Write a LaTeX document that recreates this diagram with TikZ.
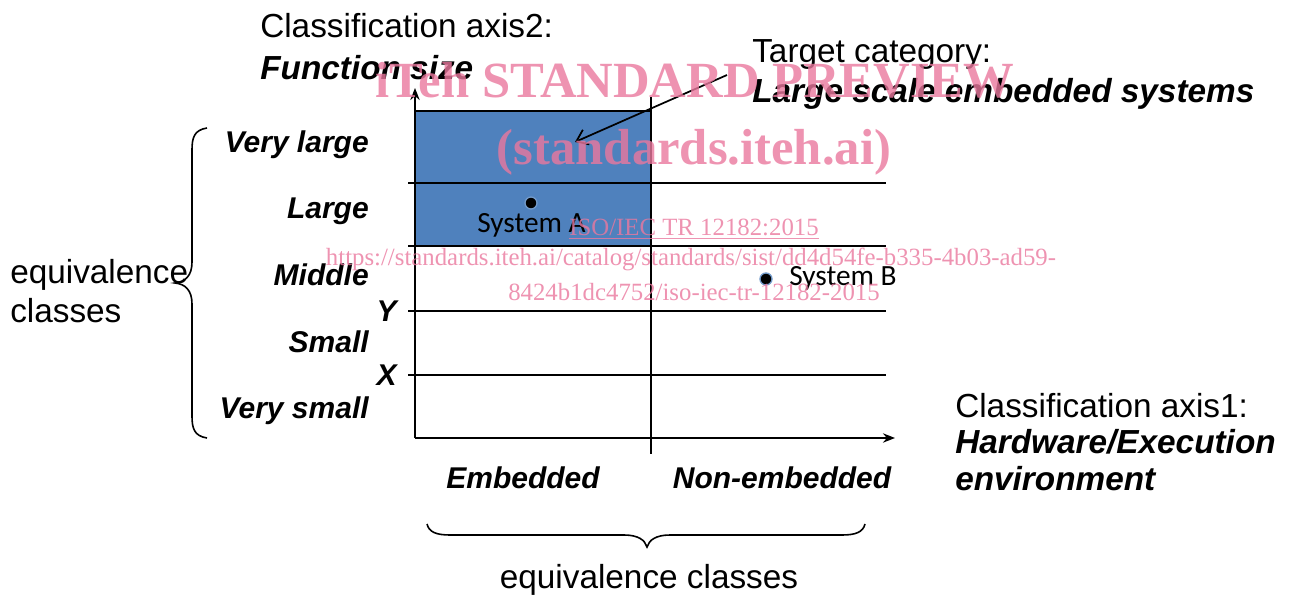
\documentclass[tikz,border=0pt]{standalone}
\usepackage{fontspec}
\setmainfont{Liberation Sans}
\newfontfamily\calfont{Carlito}
\newfontfamily\wmfont{Liberation Serif}
\usetikzlibrary{arrows.meta}
\definecolor{cellblue}{RGB}{79,129,189}
\definecolor{wmpink}{RGB}{234,120,158}
\begin{document}
\begin{tikzpicture}[x=0.75pt,y=-0.75pt,
  big/.style={inner sep=0pt,font=\fontsize{25}{30}\selectfont},
  bigbi/.style={inner sep=0pt,font=\fontsize{25}{30}\selectfont\bfseries\itshape},
  lab/.style={inner sep=0pt,anchor=base east,font=\fontsize{22.5}{27}\selectfont\bfseries\itshape},
  sys/.style={inner sep=0pt,anchor=base west,font=\calfont\fontsize{22}{26}\selectfont},
  grid/.style={line width=1.6pt},
  axis/.style={line width=1.6pt,-{Stealth[length=9pt,width=7pt]}},
  dot/.style={circle,fill=black,draw=cellblue!80,line width=1pt,minimum size=9pt,inner sep=0pt},
  wm/.style={inner sep=0pt,text=wmpink,opacity=0.8},
  brc/.style={line width=1.2pt}]
\useasboundingbox (0,0) rectangle (1291,595);

% cells
\fill[cellblue] (415,111) rectangle (651,246);
\draw[line width=1pt] (415,111) -- (651,111);

% grid lines
\coordinate (h1l) at (408,183); \coordinate (h1r) at (886,183);
\coordinate (h2l) at (408,246); \coordinate (h2r) at (886,246);
\coordinate (h3l) at (408,311); \coordinate (h3r) at (886,311);
\coordinate (h4l) at (408,375); \coordinate (h4r) at (886,375);
\draw[grid] (h1l) -- (h1r);
\draw[grid] (h2l) -- (h2r);
\draw[grid] (h3l) -- (h3r);
\draw[grid] (h4l) -- (h4r);
\coordinate (dtop) at (651,97); \coordinate (dbot) at (651,454);
\draw[grid] (dtop) -- (dbot);

% axes
\coordinate (o) at (415,438);
\coordinate (ytip) at (415,88);
\coordinate (xtip) at (895,438);
\draw[axis] (o) -- (ytip);
\draw[axis] (o) -- (xtip);

% headers
\node[big,anchor=base west] (ax2a) at (260,38) {Classification axis2:};
\node[bigbi,anchor=base west] (ax2b) at (260,80) {Function size};
\node[big,anchor=base west] (tca) at (752,63) {Target category:};
\node[bigbi,anchor=base west] (tcb) at (752,103) {Large scale embedded systems};
\node[big,anchor=base west] (ax1a) at (955,417) {Classification axis1:};
\node[bigbi,anchor=base west] (ax1b) at (955,453) {Hardware/Execution};
\node[bigbi,anchor=base west] (ax1c) at (955,490) {environment};

% target arrow
\coordinate (tstart) at (727,75);
\coordinate (tend) at (575,142);
\draw[line width=1.3pt,-{Straight Barb[length=8pt,width=12pt]}] (tstart) -- (tend);

% row labels
\node[lab] (vl) at (369,153) {Very large};
\node[lab] (lg) at (369,219) {Large};
\node[lab] (md) at (369,286) {Middle};
\node[lab] (ly) at (397,321) {Y};
\node[lab] (sm) at (369,352) {Small};
\node[lab] (lx) at (397,385) {X};
\node[lab] (vs) at (369,418) {Very small};

% column labels
\node[lab,anchor=base] (emb) at (523,488) {Embedded};
\node[lab,anchor=base] (nemb) at (782,488) {Non-embedded};

% equivalence classes (left)
\node[big,anchor=base west] (eq1) at (10,283) {equivalence};
\node[big,anchor=base west] (eq2) at (10,322) {classes};
\draw[brc] (207,128) .. controls (194,130) and (192,138) .. (192,150)
  -- (192,262) .. controls (192,276) and (185,282) .. (175,283)
  .. controls (185,284) and (192,290) .. (192,304)
  -- (192,416) .. controls (192,428) and (194,436) .. (207,438);

% equivalence classes (bottom)
\draw[brc] (427,524) .. controls (429,532) and (436,535) .. (450,535)
  -- (624,535) .. controls (638,535) and (645,540) .. (647,547)
  .. controls (649,540) and (656,535) .. (670,535)
  -- (842,535) .. controls (856,535) and (863,532) .. (865,524);
\node[big,anchor=base] (eqb) at (649,588) {equivalence classes};

% systems
\node[dot] (dA) at (531,203) {};
\node[sys] (sA) at (477,233) {System A};
\node[dot] (dB) at (766,279) {};
\node[sys] (sB) at (789,285) {System B};

% watermark
\node[wm,anchor=base,font=\wmfont\bfseries\fontsize{38}{40}\selectfont] (w1) at (695,98) {iTeh STANDARD PREVIEW};
\node[wm,anchor=base,font=\wmfont\bfseries\fontsize{38}{40}\selectfont] (w2) at (694,165) {(standards.iteh.ai)};
\node[wm,anchor=base,font=\wmfont\fontsize{18.6}{20}\selectfont] (w3) at (694,236) {\underline{ISO/IEC TR 12182:2015}};
\node[wm,anchor=base,font=\wmfont\fontsize{18.6}{20}\selectfont] (w4) at (691,266) {https://standards.iteh.ai/catalog/standards/sist/dd4d54fe-b335-4b03-ad59-};
\node[wm,anchor=base,font=\wmfont\fontsize{18.6}{20}\selectfont] (w5) at (694,300) {8424b1dc4752/iso-iec-tr-12182-2015};
\end{tikzpicture}
\end{document}
